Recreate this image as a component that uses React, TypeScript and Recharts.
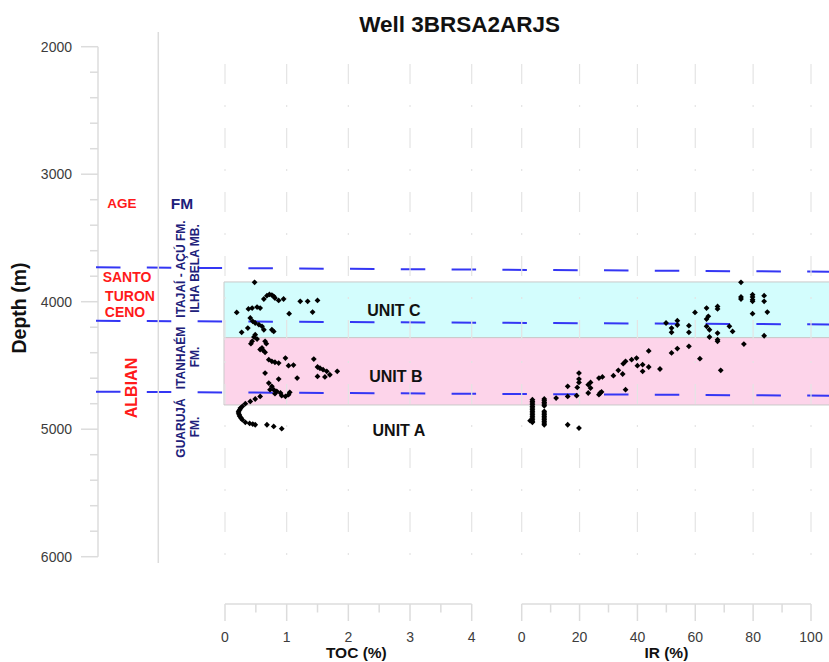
import React from "react";
import {
  ScatterChart,
  ComposedChart,
  Scatter,
  XAxis,
  YAxis,
  ReferenceLine,
  ReferenceArea,
  ReferenceDot,
  Label,
} from "recharts";

const W = 829;
const H = 662;
const FONT = "'Liberation Sans', Arial, Helvetica, sans-serif";
const AXIS_GREY = "#dcdcdc";
const GRID_GREY = "#e4e4e4";
const BLUE = "#3436f4";
const RED = "#ff1a1a";
const NAVY = "#20207a";

// depth axis
const DEPTH_DOMAIN: [number, number] = [2000, 6000];
const DEPTH_TICKS = [
  2000, 2200, 2400, 2600, 2800, 3000, 3200, 3400, 3600, 3800, 4000,
  4200, 4400, 4600, 4800, 5000, 5200, 5400, 5600, 5800, 6000,
];

// bottom axes
const TOC_TICKS = [0, 0.5, 1, 1.5, 2, 2.5, 3, 3.5, 4];
const TOC_GRID = [0, 1, 2, 3, 4];
const IR_TICKS = [0, 10, 20, 30, 40, 50, 60, 70, 80, 90, 100];
const IR_GRID = [0, 20, 40, 60, 80, 100];

// formation boundaries (depth at left / right end, the lines lean slightly)
const BOUNDARIES = [
  { name: "Santoniano", left: 3730, right: 3765 },
  { name: "Cenomaniano", left: 4150, right: 4178 },
  { name: "Albiano", left: 4706, right: 4737 },
];

// unit bands
const UNIT_BANDS = [
  { name: "UNIT C", top: 3845, base: 4282, fill: "#d3fdfd" },
  { name: "UNIT B", top: 4282, base: 4810, fill: "#fdd4ea" },
];

const UNIT_LABELS = [
  { name: "UNIT C", toc: 2.74, depth: 4065 },
  { name: "UNIT B", toc: 2.77, depth: 4583 },
  { name: "UNIT A", toc: 2.82, depth: 5006 },
];

// TOC (%) vs depth (m)
const TOC_RAW: [number, number][] = [
  [0.48, 3848], [0.63, 3979], [0.68, 3953], [0.72, 3943], [0.76, 3948], [0.79, 3958],
  [0.81, 3971], [0.87, 3990], [0.95, 3979], [1.22, 3997], [1.34, 3997], [1.5, 3990],
  [1.42, 4081], [1.04, 4094], [0.19, 4084], [0.38, 4057], [0.44, 4050], [0.52, 4042],
  [0.57, 4050], [0.41, 4128], [0.45, 4154], [0.49, 4167], [0.55, 4180], [0.6, 4193],
  [0.63, 4220], [0.27, 4240], [0.37, 4207], [0.76, 4220], [0.79, 4233], [0.47, 4277],
  [0.52, 4293], [0.44, 4311], [0.49, 4259], [0.65, 4311], [0.67, 4329], [0.42, 4329],
  [0.6, 4363], [0.62, 4382], [0.65, 4397], [0.57, 4375], [0.71, 4455], [0.76, 4468],
  [0.81, 4475], [0.87, 4481], [0.98, 4442], [1.03, 4502], [1.11, 4497], [1.17, 4599],
  [0.65, 4560], [1.44, 4450], [1.5, 4512], [1.54, 4522], [1.59, 4533], [1.65, 4546],
  [1.7, 4573], [1.82, 4546], [1.5, 4586], [1.62, 4590], [0.71, 4638], [0.76, 4664],
  [0.79, 4690], [0.84, 4703], [0.87, 4607], [0.9, 4716], [0.92, 4737], [0.98, 4743],
  [1.03, 4729], [1.05, 4711], [0.73, 4690], [0.81, 4721],
  [0.57, 4743], [0.49, 4763], [0.41, 4782], [0.33, 4800], [0.28, 4821], [0.25, 4834],
  [0.24, 4847], [0.22, 4860], [0.22, 4873], [0.23, 4886], [0.24, 4899], [0.26, 4912],
  [0.28, 4925], [0.33, 4946], [0.4, 4955], [0.45, 4960], [0.49, 4965], [0.68, 4965],
  [0.79, 4978], [0.92, 4996],
];

// IR (%) vs depth (m)
const IR_RAW: [number, number][] = [
  [3.7, 4769], [3.7, 4782], [3.7, 4795], [3.7, 4808], [3.7, 4821], [3.7, 4834],
  [3.7, 4847], [3.7, 4860], [3.7, 4873], [3.7, 4886], [3.7, 4899], [3.7, 4912],
  [3.7, 4925], [3.7, 4938], [3.7, 4946], [2.9, 4933],
  [7.8, 4763], [7.8, 4776], [7.8, 4790], [7.8, 4803], [7.8, 4816], [7.8, 4860],
  [7.8, 4873], [7.8, 4886], [7.8, 4899], [7.8, 4912], [7.8, 4925], [7.8, 4938],
  [7.8, 4952], [7.8, 4965],
  [11.9, 4756], [15.9, 4664], [15.9, 4743], [15.9, 4965], [19.8, 4560], [19.8, 4607],
  [19.8, 4633], [19.2, 4672], [19.0, 4737], [19.8, 4991], [23.0, 4651], [23.8, 4633],
  [23.8, 4677], [23.0, 4716], [26.7, 4599], [27.9, 4590], [27.1, 4716], [26.7, 4729],
  [27.6, 4708], [31.7, 4580], [33.4, 4538], [34.9, 4567], [35.9, 4690], [35.1, 4486],
  [35.9, 4468], [38.0, 4455], [39.7, 4442], [40.0, 4502], [41.8, 4494], [41.8, 4546],
  [43.9, 4512], [43.9, 4386], [47.8, 4528], [51.8, 4402], [53.8, 4368], [57.8, 4350],
  [61.6, 4447], [49.9, 4167], [51.8, 4207], [51.8, 4240], [53.8, 4149], [53.8, 4183],
  [57.8, 4188], [57.8, 4240], [59.9, 4084], [63.9, 4050], [63.9, 4136], [64.5, 4115],
  [63.9, 4193], [64.9, 4220], [64.9, 4277], [67.7, 4037], [67.7, 4057], [67.7, 4246],
  [67.7, 4298], [67.7, 4311], [68.8, 4538], [71.8, 4193], [72.9, 4233], [75.8, 3848],
  [75.8, 3963], [75.8, 3979], [76.8, 4332], [79.8, 3945], [79.8, 3963], [79.8, 3984],
  [79.8, 3997], [79.8, 4094], [83.8, 3953], [83.8, 3997], [84.9, 4081], [83.8, 4267],
];

const tocData = TOC_RAW.map(([toc, depth]) => ({ toc, depth }));
const irData = IR_RAW.map(([ir, depth]) => ({ ir, depth }));
// ends of each boundary line, across the full width (pos 0 = left, 1 = right)
const boundaryLines = BOUNDARIES.map((b) => ({
  name: b.name,
  points: [{ pos: 0, depth: b.left }, { pos: 1, depth: b.right }],
}));
const bandEdges = UNIT_BANDS.flatMap((b) => [{ pos: 0, depth: b.top }, { pos: 0, depth: b.base }]);

// shared vertical geometry
const PLOT_TOP = 46.7;
const DEPTH_BOTTOM = 556.7;
const X_AXIS_Y = 604;

const layer: React.CSSProperties = { position: "absolute", left: 0, top: 0 };

function DepthTick({ x, y, payload }: any) {
  const v = payload.value;
  const major = v % 1000 === 0;
  return (
    <g>
      <line x1={x - (major ? 17 : 8)} x2={x} y1={y} y2={y} stroke={AXIS_GREY} strokeWidth={1.5} />
      {major && (
        <text x={x - 26} y={y} textAnchor="end" dominantBaseline="central" fontSize={14} fill="#3c3c3c" fontFamily={FONT}>
          {v}
        </text>
      )}
    </g>
  );
}

const bottomTick = (isMajor: (v: number) => boolean) =>
  function BottomTick({ x, y, payload }: any) {
    const v = payload.value;
    const major = isMajor(v);
    return (
      <g>
        <line x1={x} x2={x} y1={y} y2={y + (major ? 17 : 8.5)} stroke={AXIS_GREY} strokeWidth={1.5} />
        {major && (
          <text x={x} y={y + 33} textAnchor="middle" dominantBaseline="central" fontSize={14} fill="#3c3c3c" fontFamily={FONT}>
            {v}
          </text>
        )}
      </g>
    );
  };

const TocTick = bottomTick((v) => Number.isInteger(v));
const IrTick = bottomTick((v) => v % 20 === 0);

// small filled diamond marker
function Diamond({ cx, cy }: any) {
  const r = 2.9;
  return <path d={`M${cx},${cy - r}L${cx + r},${cy}L${cx},${cy + r}L${cx - r},${cy}Z`} fill="#000" />;
}

function NoMarker() {
  return <g />;
}

const gridLine = (v: number) => (
  <ReferenceLine
    key={`g${v}`}
    segment={[{ x: v, y: DEPTH_DOMAIN[0] }, { x: v, y: DEPTH_DOMAIN[1] }]}
    stroke={GRID_GREY}
    strokeWidth={1.2}
    strokeDasharray="20 21 2 21"
    strokeDashoffset={46.7}
  />
);

function Annotations() {
  const red = { fill: RED, fontWeight: "bold" as const, fontFamily: FONT };
  const navy = { fill: NAVY, fontWeight: "bold" as const, fontFamily: FONT };
  const vtext = (x: number, y: number, s: string, size: number, style: any) => (
    <text
      transform={`translate(${x},${y}) rotate(-90)`}
      textAnchor="middle"
      dominantBaseline="central"
      fontSize={size}
      {...style}
    >
      {s}
    </text>
  );
  return (
    <svg width={W} height={H} style={{ ...layer, pointerEvents: "none" }}>
      <text x={459.7} y={31.5} textAnchor="middle" fontSize={22.5} fontWeight="bold" fill="#111" fontFamily={FONT}>
        Well 3BRSA2ARJS
      </text>
      {vtext(18.5, 308, "Depth (m)", 19.5, { fill: "#111", fontWeight: "bold", fontFamily: FONT })}
      <line x1={158.3} x2={158.3} y1={32} y2={563} stroke={AXIS_GREY} strokeWidth={1.5} />
      <text x={122} y={203} textAnchor="middle" dominantBaseline="central" fontSize={13.5} {...red}>AGE</text>
      <text x={182} y={203} textAnchor="middle" dominantBaseline="central" fontSize={15.5} {...navy}>FM</text>
      <text x={127} y={277} textAnchor="middle" dominantBaseline="central" fontSize={14} {...red}>SANTO</text>
      <text x={130} y={296} textAnchor="middle" dominantBaseline="central" fontSize={14} {...red}>TURON</text>
      <text x={125} y={312.3} textAnchor="middle" dominantBaseline="central" fontSize={14} {...red}>CENO</text>
      {vtext(131.5, 388, "ALBIAN", 16, red)}
      {vtext(181, 269, "ITAJAÍ - AÇÚ FM.", 12, navy)}
      {vtext(195, 268.5, "ILHA BELA MB.", 12, navy)}
      {vtext(181, 358, "ITANHAÉM", 12, navy)}
      {vtext(195, 357, "FM.", 12, navy)}
      {vtext(181, 428, "GUARUJÁ", 12, navy)}
      {vtext(195, 427, "FM.", 12, navy)}
    </svg>
  );
}

export default function App() {
  const depthMargin = { top: PLOT_TOP, bottom: H - DEPTH_BOTTOM };
  return (
    <div style={{ position: "absolute", left: 0, top: 0, width: W, height: H, overflow: "hidden", background: "#fff", fontFamily: FONT }}>
      {/* depth axis */}
      <div style={layer}>
        <ComposedChart width={W} height={H} margin={{ ...depthMargin, left: 0, right: 0 }}>
          <XAxis type="number" domain={[0, 1]} allowDataOverflow hide />
          <YAxis
            type="number"
            domain={DEPTH_DOMAIN}
            allowDataOverflow
            reversed
            ticks={DEPTH_TICKS}
            interval={0}
            width={98}
            tickSize={0}
            tickMargin={0}
            axisLine={{ stroke: AXIS_GREY, strokeWidth: 1.5 }}
            tick={<DepthTick />}
          />
        </ComposedChart>
      </div>

      {/* unit bands */}
      <div style={layer}>
        <ScatterChart width={W + 20} height={H} margin={{ ...depthMargin, left: 224, right: 0 }}>
          <XAxis type="number" dataKey="pos" domain={[0, 1]} allowDataOverflow hide />
          <YAxis type="number" dataKey="depth" domain={DEPTH_DOMAIN} allowDataOverflow reversed hide />
          {UNIT_BANDS.map((b) => (
            <ReferenceArea key={b.name} y1={b.top} y2={b.base} fill={b.fill} fillOpacity={1} stroke="#c9c9c9" strokeWidth={1} ifOverflow="visible" />
          ))}
          <Scatter data={bandEdges} shape={<NoMarker />} isAnimationActive={false} />
        </ScatterChart>
      </div>

      {/* formation boundaries */}
      <div style={layer}>
        <ScatterChart width={W} height={H} margin={{ ...depthMargin, left: 96, right: 0 }}>
          <XAxis type="number" dataKey="pos" domain={[0, 1]} allowDataOverflow hide />
          <YAxis type="number" dataKey="depth" domain={DEPTH_DOMAIN} allowDataOverflow reversed hide />
          {boundaryLines.map((b) => (
            <Scatter
              key={b.name}
              data={b.points}
              shape={<NoMarker />}
              line={{ stroke: BLUE, strokeWidth: 2, strokeDasharray: "24.5 26.3" }}
              isAnimationActive={false}
            />
          ))}
        </ScatterChart>
      </div>

      {/* TOC track */}
      <div style={layer}>
        <ScatterChart width={W} height={H} margin={{ top: PLOT_TOP, bottom: 0, left: 225, right: W - 471.7 }}>
          <XAxis
            type="number"
            dataKey="toc"
            domain={[0, 4]}
            allowDataOverflow
            ticks={TOC_TICKS}
            interval={0}
            height={H - X_AXIS_Y}
            tickSize={0}
            tickMargin={0}
            axisLine={{ stroke: AXIS_GREY, strokeWidth: 1.5 }}
            tick={<TocTick />}
          >
            <Label value="TOC (%)" position="insideBottom" offset={4} dx={8} fontSize={15.5} fontWeight="bold" fill="#111" fontFamily={FONT} />
          </XAxis>
          <YAxis type="number" dataKey="depth" domain={DEPTH_DOMAIN} allowDataOverflow reversed hide padding={{ top: 0, bottom: X_AXIS_Y - DEPTH_BOTTOM }} />
          {TOC_GRID.map(gridLine)}
          {UNIT_LABELS.map((u) => (
            <ReferenceDot
              key={u.name}
              x={u.toc}
              y={u.depth}
              r={0}
              fill="none"
              stroke="none"
              label={{ value: u.name, position: "center", fontSize: 16, fontWeight: "bold", fill: "#111", fontFamily: FONT }}
            />
          ))}
          <Scatter data={tocData} fill="#000" shape={<Diamond />} isAnimationActive={false} />
        </ScatterChart>
      </div>

      {/* IR track */}
      <div style={layer}>
        <ScatterChart width={W} height={H} margin={{ top: PLOT_TOP, bottom: 0, left: 521.7, right: W - 811 }}>
          <XAxis
            type="number"
            dataKey="ir"
            domain={[0, 100]}
            allowDataOverflow
            ticks={IR_TICKS}
            interval={0}
            height={H - X_AXIS_Y}
            tickSize={0}
            tickMargin={0}
            axisLine={{ stroke: AXIS_GREY, strokeWidth: 1.5 }}
            tick={<IrTick />}
          >
            <Label value="IR (%)" position="insideBottom" offset={4} fontSize={15.5} fontWeight="bold" fill="#111" fontFamily={FONT} />
          </XAxis>
          <YAxis type="number" dataKey="depth" domain={DEPTH_DOMAIN} allowDataOverflow reversed hide padding={{ top: 0, bottom: X_AXIS_Y - DEPTH_BOTTOM }} />
          {IR_GRID.map(gridLine)}
          <Scatter data={irData} fill="#000" shape={<Diamond />} isAnimationActive={false} />
        </ScatterChart>
      </div>

      <Annotations />
    </div>
  );
}
